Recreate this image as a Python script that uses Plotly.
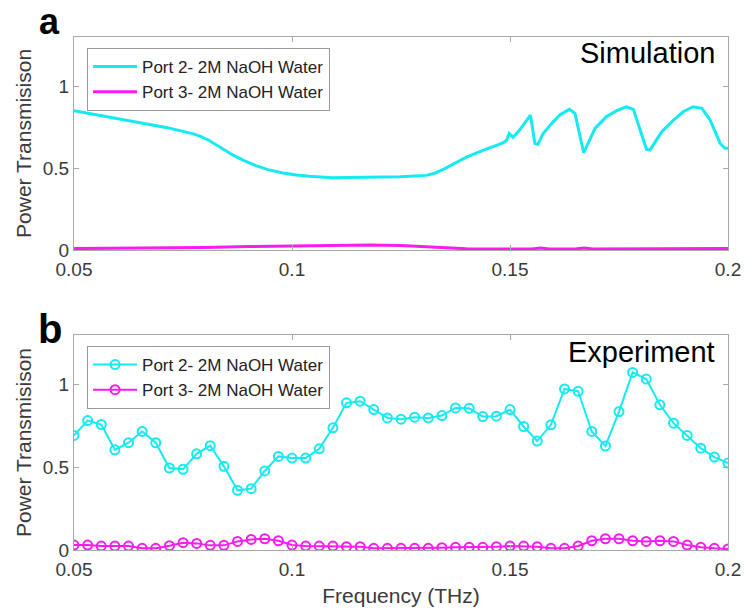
import plotly.graph_objects as go

# ---------------- data ----------------
sim_freq = [0.0500, 0.0557, 0.0634, 0.0711, 0.0772, 0.0790, 0.0810, 0.0837, 0.0864,
            0.0890, 0.0917, 0.0945, 0.0979, 0.1010, 0.1040, 0.1093, 0.1170, 0.1247,
            0.1308, 0.1327, 0.1346, 0.1370, 0.1400, 0.1438, 0.1460, 0.1484,
            0.1492, 0.1498, 0.1507, 0.1522, 0.1547, 0.1557, 0.1564, 0.1576, 0.1599,
            0.1615, 0.1636, 0.1649, 0.1669, 0.1695, 0.1721, 0.1745, 0.1767, 0.1783,
            0.1813, 0.1821, 0.1848, 0.1875, 0.1898, 0.1920, 0.1940, 0.1959, 0.1982,
            0.1993, 0.2000]
sim_port2 = [0.850, 0.823, 0.789, 0.748, 0.710, 0.693, 0.668, 0.625, 0.580,
             0.545, 0.515, 0.490, 0.470, 0.458, 0.450, 0.441, 0.445, 0.447,
             0.455, 0.468, 0.490, 0.525, 0.566, 0.608, 0.630, 0.654,
             0.668, 0.711, 0.687, 0.732, 0.823, 0.650, 0.644, 0.711, 0.782,
             0.825, 0.858, 0.833, 0.593, 0.742, 0.813, 0.850, 0.874, 0.858,
             0.614, 0.610, 0.721, 0.793, 0.845, 0.874, 0.864, 0.793, 0.650,
             0.620, 0.620]

sim3_freq = [0.050, 0.060, 0.070, 0.080, 0.090, 0.100, 0.110, 0.118, 0.125, 0.130,
             0.135, 0.140, 0.150, 0.155, 0.157, 0.159, 0.165, 0.167, 0.169, 0.180,
             0.185, 0.190, 0.200]
sim_port3 = [0.008, 0.009, 0.011, 0.015, 0.020, 0.025, 0.029, 0.030, 0.027, 0.021,
             0.012, 0.007, 0.005, 0.006, 0.011, 0.006, 0.006, 0.011, 0.006, 0.007,
             0.009, 0.007, 0.008]

exp_freq = [0.05000, 0.05313, 0.05625, 0.05938, 0.06250, 0.06563, 0.06875, 0.07188,
            0.07500, 0.07813, 0.08125, 0.08438, 0.08750, 0.09063, 0.09375, 0.09688,
            0.10000, 0.10313, 0.10625, 0.10938, 0.11250, 0.11563, 0.11875, 0.12188,
            0.12500, 0.12813, 0.13125, 0.13438, 0.13750, 0.14063, 0.14375, 0.14688,
            0.15000, 0.15313, 0.15625, 0.15938, 0.16250, 0.16563, 0.16875, 0.17188,
            0.17500, 0.17813, 0.18125, 0.18438, 0.18750, 0.19063, 0.19375, 0.19688,
            0.20000]
exp_port2 = [0.693, 0.783, 0.759, 0.606, 0.649, 0.717, 0.649, 0.496, 0.488, 0.582,
             0.631, 0.506, 0.361, 0.371, 0.478, 0.566, 0.556, 0.556, 0.612, 0.739,
             0.890, 0.900, 0.849, 0.799, 0.791, 0.803, 0.799, 0.813, 0.859, 0.857,
             0.807, 0.809, 0.849, 0.747, 0.659, 0.757, 0.974, 0.960, 0.717, 0.629,
             0.837, 1.074, 1.034, 0.878, 0.767, 0.693, 0.616, 0.562, 0.526]
exp_port3 = [0.030, 0.030, 0.024, 0.024, 0.024, 0.010, 0.010, 0.026, 0.044, 0.040,
             0.028, 0.028, 0.052, 0.064, 0.068, 0.056, 0.030, 0.024, 0.024, 0.024,
             0.020, 0.020, 0.010, 0.010, 0.010, 0.010, 0.010, 0.014, 0.016, 0.016,
             0.016, 0.020, 0.024, 0.024, 0.020, 0.010, 0.010, 0.024, 0.056, 0.068,
             0.068, 0.056, 0.052, 0.056, 0.052, 0.030, 0.016, 0.010, 0.006]
assert len(exp_freq) == len(exp_port2) == len(exp_port3)
assert len(sim_freq) == len(sim_port2) and len(sim3_freq) == len(sim_port3)

names = ["Port 2- 2M NaOH Water", "Port 3- 2M NaOH Water"]
x_ticks = [0.05, 0.1, 0.15, 0.2]
x_ticktext = ["0.05", "0.1", "0.15", "0.2"]
y_ticks = [0, 0.5, 1]
y_ticktext = ["0", "0.5", "1"]

CYAN = "#14eaf2"
MAGENTA = "#f81cf0"
FONT = "Liberation Sans, Arial, Helvetica, sans-serif"
TXT = "#3a3a3a"

fig = go.Figure()
fig.add_trace(go.Scatter(x=sim_freq, y=sim_port2, mode="lines", name=names[0],
                         line=dict(color=CYAN, width=3), xaxis="x", yaxis="y",
                         legend="legend"))
fig.add_trace(go.Scatter(x=sim3_freq, y=sim_port3, mode="lines", name=names[1],
                         line=dict(color=MAGENTA, width=3), xaxis="x", yaxis="y",
                         legend="legend"))
fig.add_trace(go.Scatter(x=exp_freq, y=exp_port2, mode="lines+markers", name=names[0],
                         line=dict(color=CYAN, width=2),
                         marker=dict(symbol="circle-open", size=9, color=CYAN,
                                     line=dict(width=2, color=CYAN)),
                         xaxis="x2", yaxis="y2", legend="legend2"))
fig.add_trace(go.Scatter(x=exp_freq, y=exp_port3, mode="lines+markers", name=names[1],
                         line=dict(color=MAGENTA, width=2),
                         marker=dict(symbol="circle-open", size=9, color=MAGENTA,
                                     line=dict(width=2, color=MAGENTA)),
                         xaxis="x2", yaxis="y2", legend="legend2"))

axis_common = dict(showline=True, mirror="ticks", linecolor="#a8a8a8", linewidth=1,
                   ticks="inside", ticklen=5, tickcolor="#a8a8a8", showgrid=False,
                   zeroline=False, automargin=False,
                   tickfont=dict(family=FONT, size=19, color=TXT))

legend_common = dict(bgcolor="white", bordercolor="#9a9a9a", borderwidth=1,
                     font=dict(family=FONT, size=17, color="#222"),
                     xanchor="left", yanchor="top", tracegroupgap=0,
                     itemwidth=44)

fig.update_layout(
    width=745, height=611,
    margin=dict(l=74, r=17, t=37, b=61, autoexpand=False),
    paper_bgcolor="white", plot_bgcolor="white",
    font=dict(family=FONT),
    xaxis=dict(domain=[0, 1], range=[0.05, 0.2], tickvals=x_ticks, ticktext=x_ticktext,
               anchor="y", ticklabelstandoff=2, **axis_common),
    yaxis=dict(domain=[0.585, 1], range=[0, 1.3], tickvals=y_ticks, ticktext=y_ticktext,
               anchor="x",
               title=dict(text="Power Transmisison", standoff=5,
                          font=dict(family=FONT, size=21, color=TXT)),
               **axis_common),
    xaxis2=dict(domain=[0, 1], range=[0.05, 0.2], tickvals=x_ticks, ticktext=x_ticktext,
                anchor="y2", ticklabelstandoff=2,
                title=dict(text="Frequency (THz)", standoff=9,
                           font=dict(family=FONT, size=21, color=TXT)),
                **axis_common),
    yaxis2=dict(domain=[0, 0.419], range=[0, 1.3], tickvals=y_ticks, ticktext=y_ticktext,
                anchor="x2",
                title=dict(text="Power Transmisison", standoff=5,
                           font=dict(family=FONT, size=21, color=TXT)),
                **axis_common),
    legend=dict(x=0.02, y=0.9786, **legend_common),
    legend2=dict(x=0.02, y=0.3977, **legend_common),
    annotations=[
        dict(text="<b>a</b>", xref="paper", yref="paper", x=-0.0367, y=1.0721,
             xanchor="center", yanchor="top", showarrow=False, borderpad=0,
             font=dict(family=FONT, size=36, color="black")),
        dict(text="<b>b</b>", xref="paper", yref="paper", x=-0.0367, y=0.4308,
             xanchor="center", yanchor="middle", showarrow=False,
             font=dict(family=FONT, size=40, color="black")),
        dict(text="Simulation", xref="paper", yref="paper", x=0.983, y=0.968,
             xanchor="right", yanchor="middle", showarrow=False,
             font=dict(family=FONT, size=29, color="black")),
        dict(text="Experiment", xref="paper", yref="paper", x=0.983, y=0.386,
             xanchor="right", yanchor="middle", showarrow=False,
             font=dict(family=FONT, size=29, color="black")),
    ],
)

fig.write_html("out.html")
